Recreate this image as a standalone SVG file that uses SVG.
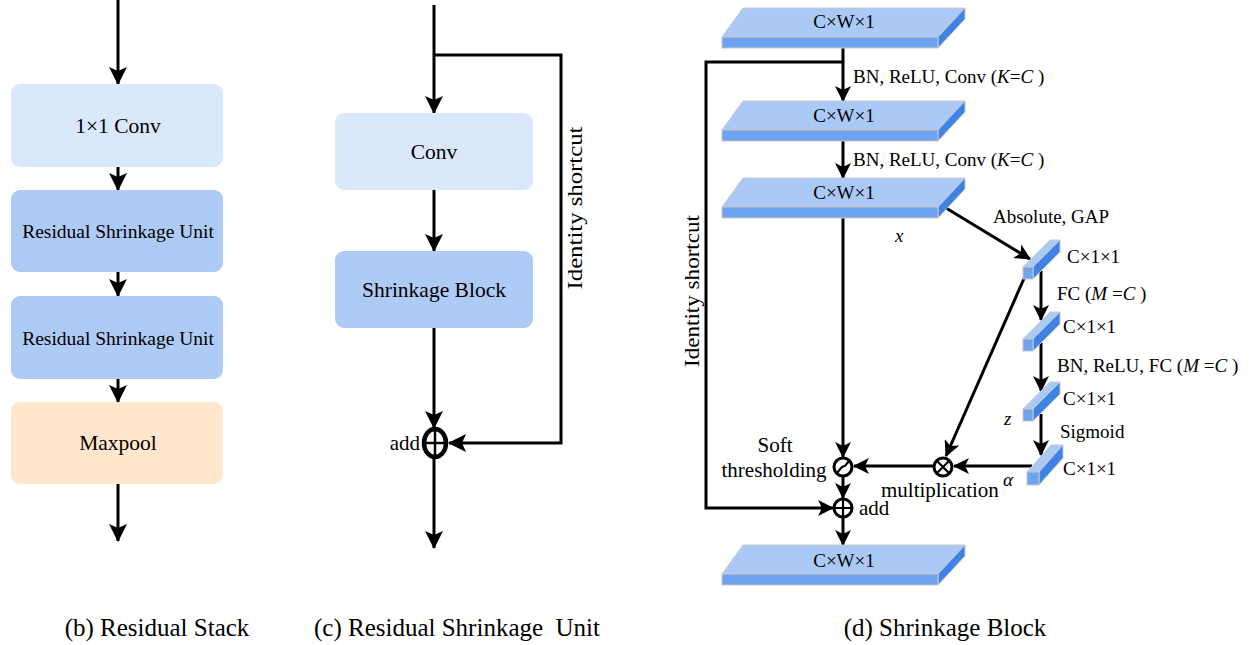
<svg xmlns="http://www.w3.org/2000/svg" width="1255" height="645" viewBox="0 0 1255 645">
<style>
text { font-family: "Liberation Serif", "Times New Roman", serif; fill: #000; }
.ln { stroke: #000; stroke-width: 3; fill: none; }
.lb { marker-end: url(#ah); }
.ld { marker-end: url(#ahs); }
.b1 { fill: #dae8fc; }
.b2 { fill: #aecbf5; }
.b3 { fill: #ffe6cc; }
.tp { fill: #abc9f7; stroke: #c8c8c8; stroke-width: 1; }
.fr { fill: #6ea3f0; stroke: #c8c8c8; stroke-width: 1; }
.sd { fill: #3f82e8; stroke: #c8c8c8; stroke-width: 1; }
.op { fill: #fff; stroke: #000; stroke-width: 3; }
.t19 { font-size: 19px; }
.t21 { font-size: 21px; }
.cap { font-size: 25px; text-anchor: middle; }
.mid { text-anchor: middle; }
</style>
<defs>
<marker id="ah" viewBox="0 0 18 18" markerWidth="18" markerHeight="18" refX="17" refY="9" orient="auto" markerUnits="userSpaceOnUse">
<path d="M0,0 L18,9 L0,18 L4,9 Z" fill="#000"/>
</marker>
<marker id="ahs" viewBox="0 0 16 16" markerWidth="16" markerHeight="16" refX="15" refY="8" orient="auto" markerUnits="userSpaceOnUse">
<path d="M0,0 L16,8 L0,16 L4,8 Z" fill="#000"/>
</marker>
</defs>
<rect width="1255" height="645" fill="#fff"/>

<!-- connectors -->
<g id="connectors">
<!-- panel b -->
<line class="ln lb" x1="118" y1="0" x2="118" y2="84"/>
<line class="ln lb" x1="118" y1="167" x2="118" y2="190"/>
<line class="ln lb" x1="118" y1="272" x2="118" y2="296"/>
<line class="ln lb" x1="118" y1="379" x2="118" y2="402"/>
<line class="ln lb" x1="118" y1="484" x2="118" y2="541"/>
<!-- panel c -->
<line class="ln lb" x1="434" y1="5" x2="434" y2="113"/>
<path class="ln" d="M434,55 H561 V443 H449" marker-end="url(#ah)"/>
<line class="ln lb" x1="434" y1="190" x2="434" y2="251"/>
<line class="ln lb" x1="434" y1="328" x2="434" y2="428"/>
<line class="ln lb" x1="434" y1="458" x2="434" y2="548"/>
<!-- panel d -->
<line class="ln ld" x1="843" y1="48" x2="843" y2="101"/>
<path class="ln" d="M843,62 H706 V508 H833" marker-end="url(#ahs)"/>
<line class="ln ld" x1="843" y1="141" x2="843" y2="178"/>
<line class="ln ld" x1="843" y1="218" x2="843" y2="457"/>
<line class="ln ld" x1="843" y1="477" x2="843" y2="498"/>
<line class="ln ld" x1="843" y1="518" x2="843" y2="545"/>
<line class="ln ld" x1="946" y1="208" x2="1030" y2="259"/>
<line class="ln ld" x1="1026" y1="274" x2="946" y2="456"/>
<line class="ln ld" x1="1041" y1="271" x2="1041" y2="320"/>
<line class="ln ld" x1="1041" y1="343" x2="1041" y2="391"/>
<line class="ln ld" x1="1041" y1="414" x2="1041" y2="455"/>
<line class="ln ld" x1="1032" y1="466" x2="954" y2="466"/>
<line class="ln ld" x1="933" y1="466" x2="854" y2="466"/>
</g>

<!-- panel b nodes -->
<g id="b-conv">
<rect class="b1" x="11" y="84" width="212" height="83" rx="9"/>
<text class="mid" x="118" y="133" font-size="21.5">1×1 Conv</text>
</g>
<g id="b-rsu1">
<rect class="b2" x="11" y="190" width="212" height="82" rx="9"/>
<text class="mid" x="118" y="238" font-size="19.5">Residual Shrinkage Unit</text>
</g>
<g id="b-rsu2">
<rect class="b2" x="11" y="296" width="212" height="83" rx="9"/>
<text class="mid" x="118" y="345" font-size="19.5">Residual Shrinkage Unit</text>
</g>
<g id="b-maxpool">
<rect class="b3" x="11" y="402" width="212" height="82" rx="9"/>
<text class="mid" x="118" y="450" font-size="21.5">Maxpool</text>
</g>

<!-- panel c nodes -->
<g id="c-conv">
<rect class="b1" x="335" y="113" width="198" height="77" rx="9"/>
<text class="mid" x="434" y="159" font-size="21.5">Conv</text>
</g>
<g id="c-shrink">
<rect class="b2" x="335" y="251" width="198" height="77" rx="9"/>
<text class="mid" x="434" y="297" font-size="21.5">Shrinkage Block</text>
</g>
<g id="c-add">
<ellipse cx="435" cy="443" rx="11" ry="14" fill="#fff" stroke="#000" stroke-width="4.5"/>
<line x1="435" y1="429" x2="435" y2="457" stroke="#000" stroke-width="2.5"/>
<line x1="424" y1="443" x2="446" y2="443" stroke="#000" stroke-width="2.5"/>
<text x="420" y="450" font-size="21" text-anchor="end">add</text>
</g>
<g id="c-label">
<text transform="translate(582,208) rotate(-90)" class="mid" font-size="21" textLength="163" lengthAdjust="spacingAndGlyphs">Identity shortcut</text>
</g>

<!-- panel d slabs -->
<g id="slab1">
<path class="tp" d="M722,37 L743,8 L965,8 L938,37 Z"/>
<path class="sd" d="M938,37 L965,8 L965,19 L938,48 Z"/>
<rect class="fr" x="722" y="37" width="216" height="11"/>
<text class="t19 mid" x="844" y="28">C×W×1</text>
</g>
<g id="slab2">
<path class="tp" d="M722,130 L743,101 L965,101 L938,130 Z"/>
<path class="sd" d="M938,130 L965,101 L965,112 L938,141 Z"/>
<rect class="fr" x="722" y="130" width="216" height="11"/>
<text class="t19 mid" x="844" y="122">C×W×1</text>
</g>
<g id="slab3">
<path class="tp" d="M722,207 L743,178 L965,178 L938,207 Z"/>
<path class="sd" d="M938,207 L965,178 L965,189 L938,218 Z"/>
<rect class="fr" x="722" y="207" width="216" height="11"/>
<text class="t19 mid" x="844" y="199">C×W×1</text>
</g>
<g id="slab4">
<path class="tp" d="M722,574 L743,545 L965,545 L938,574 Z"/>
<path class="sd" d="M938,574 L965,545 L965,556 L938,585 Z"/>
<rect class="fr" x="722" y="574" width="216" height="11"/>
<text class="t19 mid" x="844" y="567">C×W×1</text>
</g>

<!-- panel d small vectors -->
<g id="cube1">
<path class="tp" d="M1023,267 L1050,240 L1060,240 L1033,267 Z"/>
<path class="sd" d="M1033,267 L1060,240 L1060,252 L1033,279 Z"/>
<rect class="fr" x="1023" y="267" width="10" height="12"/>
<text class="t19" x="1067" y="263">C×1×1</text>
</g>
<g id="cube2">
<path class="tp" d="M1023,339 L1050,312 L1060,312 L1033,339 Z"/>
<path class="sd" d="M1033,339 L1060,312 L1060,324 L1033,351 Z"/>
<rect class="fr" x="1023" y="339" width="10" height="12"/>
<text class="t19" x="1063" y="333">C×1×1</text>
</g>
<g id="cube3">
<path class="tp" d="M1023,409 L1050,382 L1060,382 L1033,409 Z"/>
<path class="sd" d="M1033,409 L1060,382 L1060,394 L1033,421 Z"/>
<rect class="fr" x="1023" y="409" width="10" height="12"/>
<text class="t19" x="1063" y="405">C×1×1</text>
</g>
<g id="cube4">
<path class="tp" d="M1027,472 L1051,445 L1063,445 L1039,472 Z"/>
<path class="sd" d="M1039,472 L1063,445 L1063,458 L1039,485 Z"/>
<rect class="fr" x="1027" y="472" width="12" height="13"/>
<text class="t19" x="1063" y="475">C×1×1</text>
</g>

<!-- panel d operators -->
<g id="soft">
<circle class="op" cx="843" cy="467" r="9"/>
<path d="M837,473 L841,468 Q843,466 845,466 L849,461" fill="none" stroke="#000" stroke-width="2.2"/>
<text class="t21 mid" x="775" y="452">Soft</text>
<text class="t21 mid" x="774" y="477">thresholding</text>
</g>
<g id="mult">
<circle class="op" cx="943" cy="467" r="9"/>
<path d="M937,461 L949,473 M949,461 L937,473" stroke="#000" stroke-width="2.2"/>
<text class="t21" x="881" y="497">multiplication</text>
</g>
<g id="addd">
<circle class="op" cx="843" cy="508" r="9"/>
<path d="M843,499 V517 M834,508 H852" stroke="#000" stroke-width="2.2"/>
<text class="t21" x="859" y="515">add</text>
</g>

<!-- panel d labels -->
<g id="d-labels">
<text class="t19" x="853" y="83">BN, ReLU, Conv (<tspan font-style="italic">K</tspan>=<tspan font-style="italic">C</tspan> )</text>
<text class="t19" x="853" y="166">BN, ReLU, Conv (<tspan font-style="italic">K</tspan>=<tspan font-style="italic">C</tspan> )</text>
<text class="t19" x="895" y="242" font-style="italic">x</text>
<text class="t19" x="993" y="223">Absolute, GAP</text>
<text class="t19" x="1057" y="300">FC (<tspan font-style="italic">M</tspan> =<tspan font-style="italic">C</tspan> )</text>
<text class="t19" x="1057" y="372">BN, ReLU, FC (<tspan font-style="italic">M</tspan> =<tspan font-style="italic">C</tspan> )</text>
<text class="t19" x="1004" y="425" font-style="italic">z</text>
<text class="t19" x="1060" y="438">Sigmoid</text>
<text class="t19" x="1003" y="486" font-style="italic">α</text>
<text transform="translate(699,291) rotate(-90)" class="mid" font-size="20" textLength="152" lengthAdjust="spacingAndGlyphs">Identity shortcut</text>
</g>

<!-- captions -->
<g id="captions">
<text class="cap" x="157" y="636">(b) Residual Stack</text>
<text class="cap" x="457" y="636" xml:space="preserve">(c) Residual Shrinkage  Unit</text>
<text class="cap" x="945" y="636">(d) Shrinkage Block</text>
</g>
</svg>
